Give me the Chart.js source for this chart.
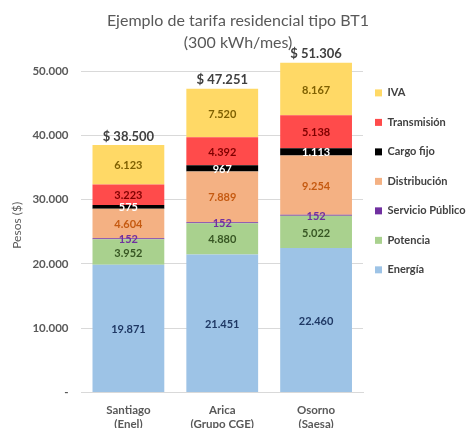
<!DOCTYPE html>
<html>
<head>
<meta charset="utf-8">
<script src="https://cdn.jsdelivr.net/npm/chart.js@4"></script>
<style>
  html, body { margin: 0; padding: 0; background: #fff; overflow: hidden; }
  #wrap { width: 470px; height: 428px; overflow: hidden; }
</style>
</head>
<body>
<div id="wrap"><canvas id="tarifa" width="470" height="434"></canvas></div>
<script>
// categories (comuna / empresa)
const categories = [['Santiago', '(Enel)'], ['Arica', '(Grupo CGE)'], ['Osorno', '(Saesa)']];

// components of the bill, $ per month
const energia = [19871, 21451, 22460];
const potencia = [3952, 4880, 5022];
const servicioPublico = [152, 152, 152];
const distribucion = [4604, 7889, 9254];
const cargoFijo = [575, 967, 1113];
const transmision = [3223, 4392, 5138];
const iva = [6123, 7520, 8167];

const yTicks = [0, 10000, 20000, 30000, 40000, 50000];

const fmt = v => v.toLocaleString('de-DE');

const series = [
    { label: 'Energía', data: energia, bg: '#9DC3E6', txt: '#1F3864' },
    { label: 'Potencia', data: potencia, bg: '#A9D18E', txt: '#375623' },
    { label: 'Servicio Público', data: servicioPublico, bg: '#7030A0', txt: '#7030A0' },
    { label: 'Distribución', data: distribucion, bg: '#F4B183', txt: '#C55A11' },
    { label: 'Cargo fijo', data: cargoFijo, bg: '#000000', txt: '#FFFFFF' },
    { label: 'Transmisión', data: transmision, bg: '#FF4B4B', txt: '#7F0000' },
    { label: 'IVA', data: iva, bg: '#FFD966', txt: '#7F6000' }
];

// values inside the segments + totals on top
const labelPlugin = {
    id: 'segmentLabels',
    afterDatasetsDraw(chart) {
        const ctx = chart.ctx;
        ctx.save();
        ctx.textAlign = 'center';
        ctx.textBaseline = 'middle';
        ctx.font = 'bold 11px Lato';
        chart.data.datasets.forEach((ds, i) => {
            const meta = chart.getDatasetMeta(i);
            meta.data.forEach((bar, j) => {
                const y = (bar.y + bar.base) / 2;
                ctx.fillStyle = series[i].txt;
                ctx.fillText(fmt(ds.data[j]), bar.x, y + 1);
            });
        });
        // totals
        ctx.font = 'bold 13px Lato';
        ctx.fillStyle = '#404040';
        ctx.textBaseline = 'bottom';
        const last = chart.getDatasetMeta(chart.data.datasets.length - 1);
        categories.forEach((c, j) => {
            let total = 0;
            chart.data.datasets.forEach(ds => { total += ds.data[j]; });
            const bar = last.data[j];
            ctx.fillText('$ ' + fmt(total), bar.x, bar.y - 2);
        });
        ctx.restore();
    }
};

new Chart(document.getElementById('tarifa'), {
    type: 'bar',
    data: {
        labels: categories,
        datasets: series.map(s => ({
            label: s.label,
            data: s.data,
            backgroundColor: s.bg,
            borderWidth: 0,
            barPercentage: 0.765,
            categoryPercentage: 1
        }))
    },
    options: {
        responsive: false,
        animation: false,
        layout: { padding: { left: 6, right: 0, top: 6 } },
        scales: {
            x: {
                stacked: true,
                grid: { display: false },
                border: { color: '#D9D9D9' },
                ticks: { padding: 3, color: '#595959', font: { family: 'Lato', size: 11.5, weight: 'bold' } }
            },
            y: {
                stacked: true,
                min: 0,
                max: 52000,
                afterBuildTicks: scale => {
                    scale.ticks = yTicks.map(v => ({ value: v }));
                },
                grid: { color: '#D9D9D9', drawTicks: false },
                border: { display: false },
                ticks: {
                    padding: 13,
                    color: '#595959',
                    font: { family: 'Lato', size: 11.5, weight: 'bold' },
                    callback: v => v === 0 ? '-' : fmt(v)
                },
                title: {
                    display: true,
                    text: 'Pesos ($)',
                    color: '#595959',
                    padding: { top: 4, bottom: -5 },
                    font: { family: 'Lato', size: 12 }
                }
            }
        },
        plugins: {
            title: {
                display: true,
                text: ['Ejemplo de tarifa residencial tipo BT1', '(300 kWh/mes)'],
                color: '#595959',
                font: { family: 'Lato', size: 16, weight: 'normal', lineHeight: 1.4 },
                padding: { top: 3.5, bottom: 4 }
            },
            legend: {
                position: 'right',
                align: 'start',
                reverse: true,
                maxWidth: 107,
                title: { display: true, text: ' ', padding: 27.5 },
                labels: {
                    boxWidth: 7,
                    boxHeight: 7,
                    padding: 12,
                    color: '#404040',
                    font: { family: 'Lato', size: 11, weight: 'bold', lineHeight: 1.59 },
                    // single-line arrays so the row height follows lineHeight
                    generateLabels: chart => Chart.defaults.plugins.legend.labels.generateLabels(chart)
                        .map(item => ({ ...item, text: [item.text] }))
                }
            },
            tooltip: { enabled: false }
        }
    },
    plugins: [labelPlugin]
});
</script>
</body>
</html>
